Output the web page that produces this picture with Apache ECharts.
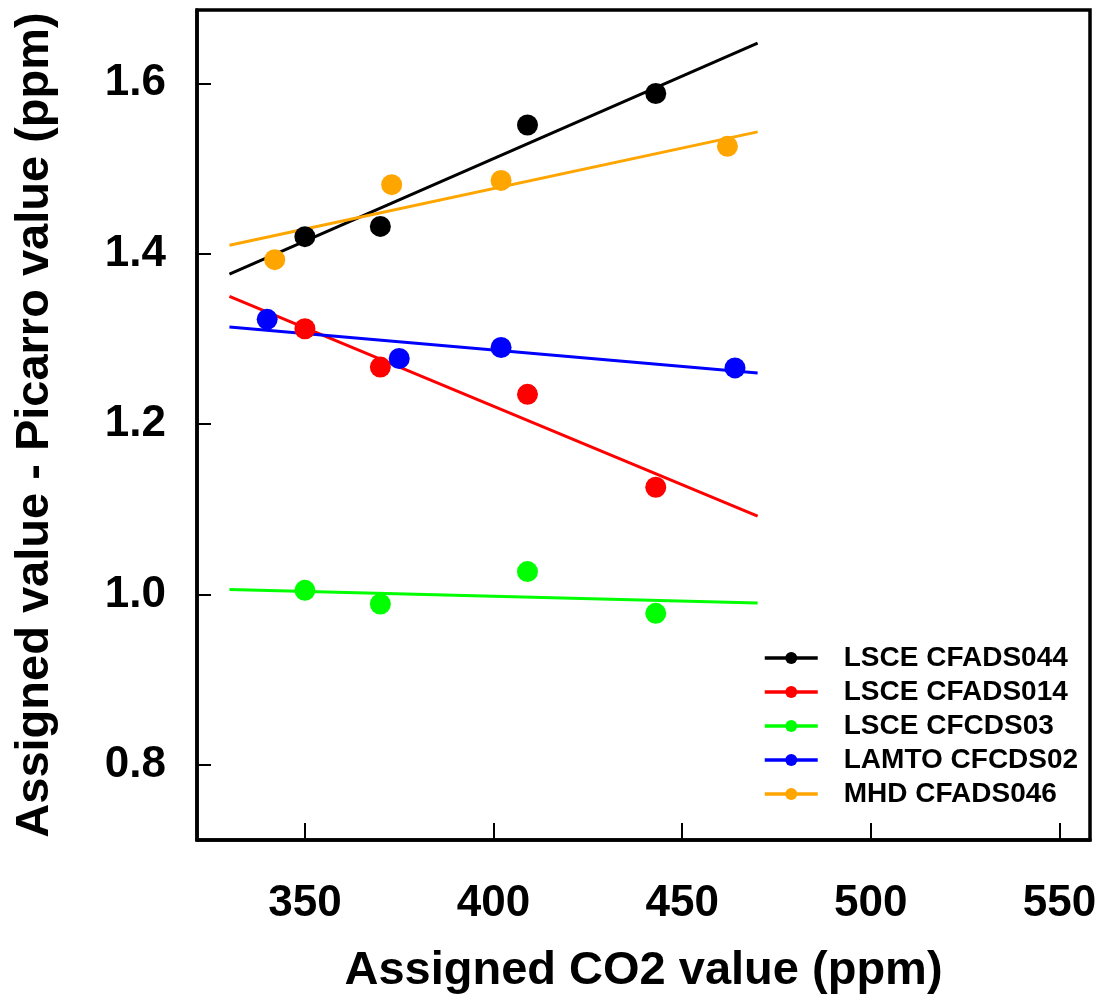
<!DOCTYPE html>
<html><head><meta charset="utf-8">
<script src="https://cdn.jsdelivr.net/npm/echarts@6/dist/echarts.min.js"></script>
<style>html,body{margin:0;padding:0;background:#fff}#c{width:1101px;height:1000px}</style>
</head><body><div id="c"></div>
<script>
const seriesNames = ['LSCE CFADS044','LSCE CFADS014','LSCE CFCDS03','LAMTO CFCDS02','MHD CFADS046'];
const colors = ['#000000','#ff0000','#00ff00','#0000ff','#ffa500'];
// measured points [CO2, difference]
const pts044 = [[350,1.420],[370,1.432],[409,1.551],[443,1.588]];
const pts014 = [[350,1.312],[370,1.267],[409,1.235],[443,1.126]];
const pts03  = [[350,1.005],[370,0.989],[409,1.027],[443,0.978]];
const pts02  = [[340,1.323],[375,1.277],[402,1.290],[464,1.266]];
const pts046 = [[342,1.393],[373,1.481],[402,1.486],[462,1.526]];
// fitted lines endpoints
const fit044 = [[330,1.376],[470,1.647]];
const fit014 = [[330,1.350],[470,1.092]];
const fit03  = [[330,1.006],[470,0.990]];
const fit02  = [[330,1.314],[470,1.260]];
const fit046 = [[330,1.410],[470,1.543]];
const allPts = [pts044,pts014,pts03,pts02,pts046];
const allFit = [fit044,fit014,fit03,fit02,fit046];

const font = 'Liberation Sans';
const series = [];
seriesNames.forEach((n,i)=>{
  series.push({name:n,type:'line',data:allFit[i],symbol:'circle',symbolSize:12,showSymbol:false,
    lineStyle:{color:colors[i],width:3},itemStyle:{color:colors[i]},silent:true,z:2});
});
seriesNames.forEach((n,i)=>{
  series.push({name:n,type:'scatter',data:allPts[i],symbol:'circle',symbolSize:21,
    itemStyle:{color:colors[i],opacity:1},z:3});
});
const chart = echarts.init(document.getElementById('c'),null,{renderer:'canvas'});
chart.setOption({
  animation:false,
  backgroundColor:'#fff',
  grid:{left:197,right:11,top:10,bottom:160,show:true,borderColor:'#000',borderWidth:3.5},
  xAxis:{type:'value',min:321.4,max:558.1,splitNumber:5,
    name:'Assigned CO2 value (ppm)',nameLocation:'middle',nameGap:108,
    nameTextStyle:{fontFamily:font,fontWeight:'bold',fontSize:47,color:'#000'},
    axisLine:{show:true,lineStyle:{color:'#000',width:3.5}},
    axisTick:{show:true,inside:true,length:17,lineStyle:{color:'#000',width:2}},
    axisLabel:{showMinLabel:false,showMaxLabel:false,margin:42,fontFamily:font,fontWeight:'bold',fontSize:44,color:'#000'},
    splitLine:{show:false}},
  yAxis:{type:'value',min:0.712,max:1.686,splitNumber:5,
    name:'Assigned value - Picarro value (ppm)',nameLocation:'middle',nameGap:138,
    nameTextStyle:{fontFamily:font,fontWeight:'bold',fontSize:47,color:'#000'},
    axisLine:{show:true,lineStyle:{color:'#000',width:3.5}},
    axisTick:{show:true,inside:true,length:14,lineStyle:{color:'#000',width:2}},
    axisLabel:{showMinLabel:false,showMaxLabel:false,margin:31,fontFamily:font,fontWeight:'bold',fontSize:44,color:'#000',
      formatter:v=>v.toFixed(1)},
    splitLine:{show:false}},
  legend:{data:seriesNames,left:758,top:636,orient:'vertical',itemWidth:53,itemHeight:15,itemGap:0,
    selectedMode:false,lineStyle:{width:3.5},
    textStyle:{fontFamily:font,fontWeight:'bold',fontSize:28,lineHeight:34,color:'#000',padding:[0,0,0,21]}},
  series:series
});
</script></body></html>
